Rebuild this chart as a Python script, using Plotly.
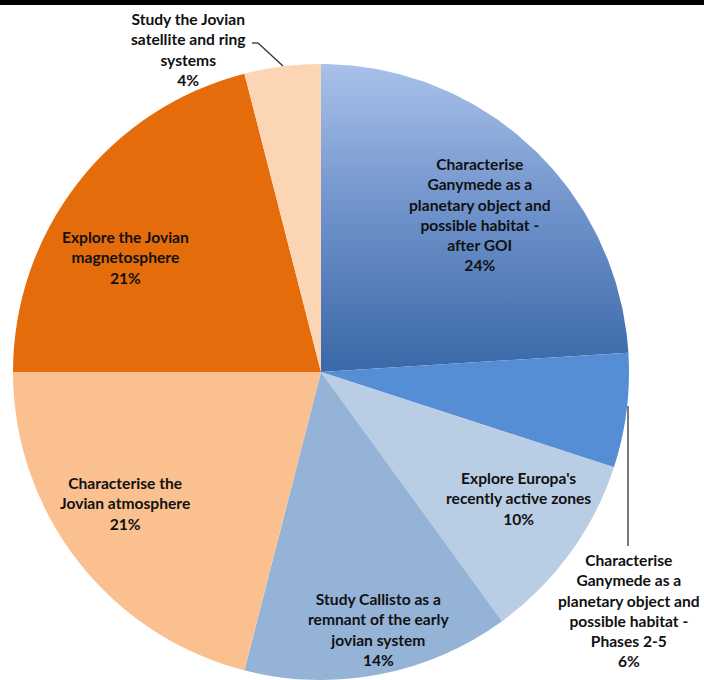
import math
import plotly.graph_objects as go

W, H = 704, 680

# ---- data ----
categories = [
    "Characterise Ganymede as a planetary object and possible habitat - after GOI",
    "Characterise Ganymede as a planetary object and possible habitat - Phases 2-5",
    "Explore Europa's recently active zones",
    "Study Callisto as a remnant of the early jovian system",
    "Characterise the Jovian atmosphere",
    "Explore the Jovian magnetosphere",
    "Study the Jovian satellite and ring systems",
]
values = [24, 6, 10, 14, 21, 21, 4]
wrapped_labels = [
    "Characterise<br>Ganymede as a<br>planetary object and<br>possible habitat -<br>after GOI",
    "Characterise<br>Ganymede as a<br>planetary object and<br>possible habitat -<br>Phases 2-5",
    "Explore Europa's<br>recently active zones",
    "Study Callisto as a<br>remnant of the early<br>jovian system",
    "Characterise the<br>Jovian atmosphere",
    "Explore the Jovian<br>magnetosphere",
    "Study the Jovian<br>satellite and ring<br>systems",
]
# first slice is drawn with a vertical gradient (overlay below), so transparent here
colors = ["rgba(0,0,0,0)", "#558ED5", "#B9CDE5", "#95B3D7", "#FAC090", "#E46C0A", "#FCD5B5"]
gradient_colors = ["#3A68A8", "#6C90C9", "#A9C1E9"]

# ---- layout geometry (pixels) ----
cx, cy, r = 321, 372, 308
dom_x = [(cx - r) / W, (cx + r) / W]
dom_y = [1 - (cy + r) / H, 1 - (cy - r) / H]

def px(x):
    return x / W

def py(y):
    return 1 - y / H

fig = go.Figure()

# gradient fill for the first slice, wedge computed from its value share
total = sum(values)
a0 = math.pi / 2
a1 = a0 - 2 * math.pi * values[0] / total
n = 120
xs = [0.0] + [math.cos(a0 + (a1 - a0) * i / n) for i in range(n + 1)] + [0.0]
ys = [0.0] + [math.sin(a0 + (a1 - a0) * i / n) for i in range(n + 1)] + [0.0]
fig.add_trace(go.Scatter(
    x=xs, y=ys, mode="lines", fill="toself", line=dict(width=0),
    fillgradient=dict(type="vertical", start=min(ys), stop=max(ys),
                      colorscale=[[0, gradient_colors[0]], [0.5, gradient_colors[1]],
                                  [1, gradient_colors[2]]]),
    hoverinfo="skip", showlegend=False, xaxis="x", yaxis="y",
))

fig.add_trace(go.Pie(
    labels=categories, values=values, sort=False, direction="clockwise",
    rotation=0, marker=dict(colors=colors, line=dict(width=0)),
    textinfo="none", hoverinfo="skip", showlegend=False,
    domain=dict(x=dom_x, y=dom_y),
))

# label positions (pixel anchors)
label_pos = [(480, 214, "center"), (702, 610, "right"), (518, 499, "center"),
             (378, 629, "center"), (125, 503, "center"), (125, 257, "center"),
             (188, 50, "center")]
for (lx, ly, anc), txt, v in zip(label_pos, wrapped_labels, values):
    fig.add_annotation(
        x=px(lx), y=py(ly), xref="paper", yref="paper", showarrow=False,
        text=f"{txt}<br>{v}%", align="center", xanchor=anc, yanchor="middle",
        font=dict(family="Lato", size=15.6, color="#111111", weight="bold"),
    )

# leader lines
line_style = dict(color="#333333", width=1.3)
fig.add_shape(type="line", xref="paper", yref="paper",
              x0=px(252), y0=py(43), x1=px(258), y1=py(43), line=line_style)
fig.add_shape(type="line", xref="paper", yref="paper",
              x0=px(258), y0=py(43), x1=px(283), y1=py(66), line=line_style)
fig.add_shape(type="line", xref="paper", yref="paper",
              x0=px(628), y0=py(406), x1=px(628), y1=py(546), line=line_style)

# black top bar
fig.add_shape(type="rect", xref="paper", yref="paper", x0=0, x1=1, y0=py(5), y1=1,
              fillcolor="black", line=dict(width=0))

fig.update_layout(
    width=W, height=H, margin=dict(l=0, r=0, t=0, b=0),
    paper_bgcolor="white", plot_bgcolor="rgba(0,0,0,0)",
    xaxis=dict(domain=dom_x, range=[-1, 1], visible=False, fixedrange=True),
    yaxis=dict(domain=dom_y, range=[-1, 1], visible=False, fixedrange=True),
)

fig.write_html(
    "out.html",
    config={"displayModeBar": False},
    post_script="document.body.style.margin='0';document.body.style.overflow='hidden';",
)
